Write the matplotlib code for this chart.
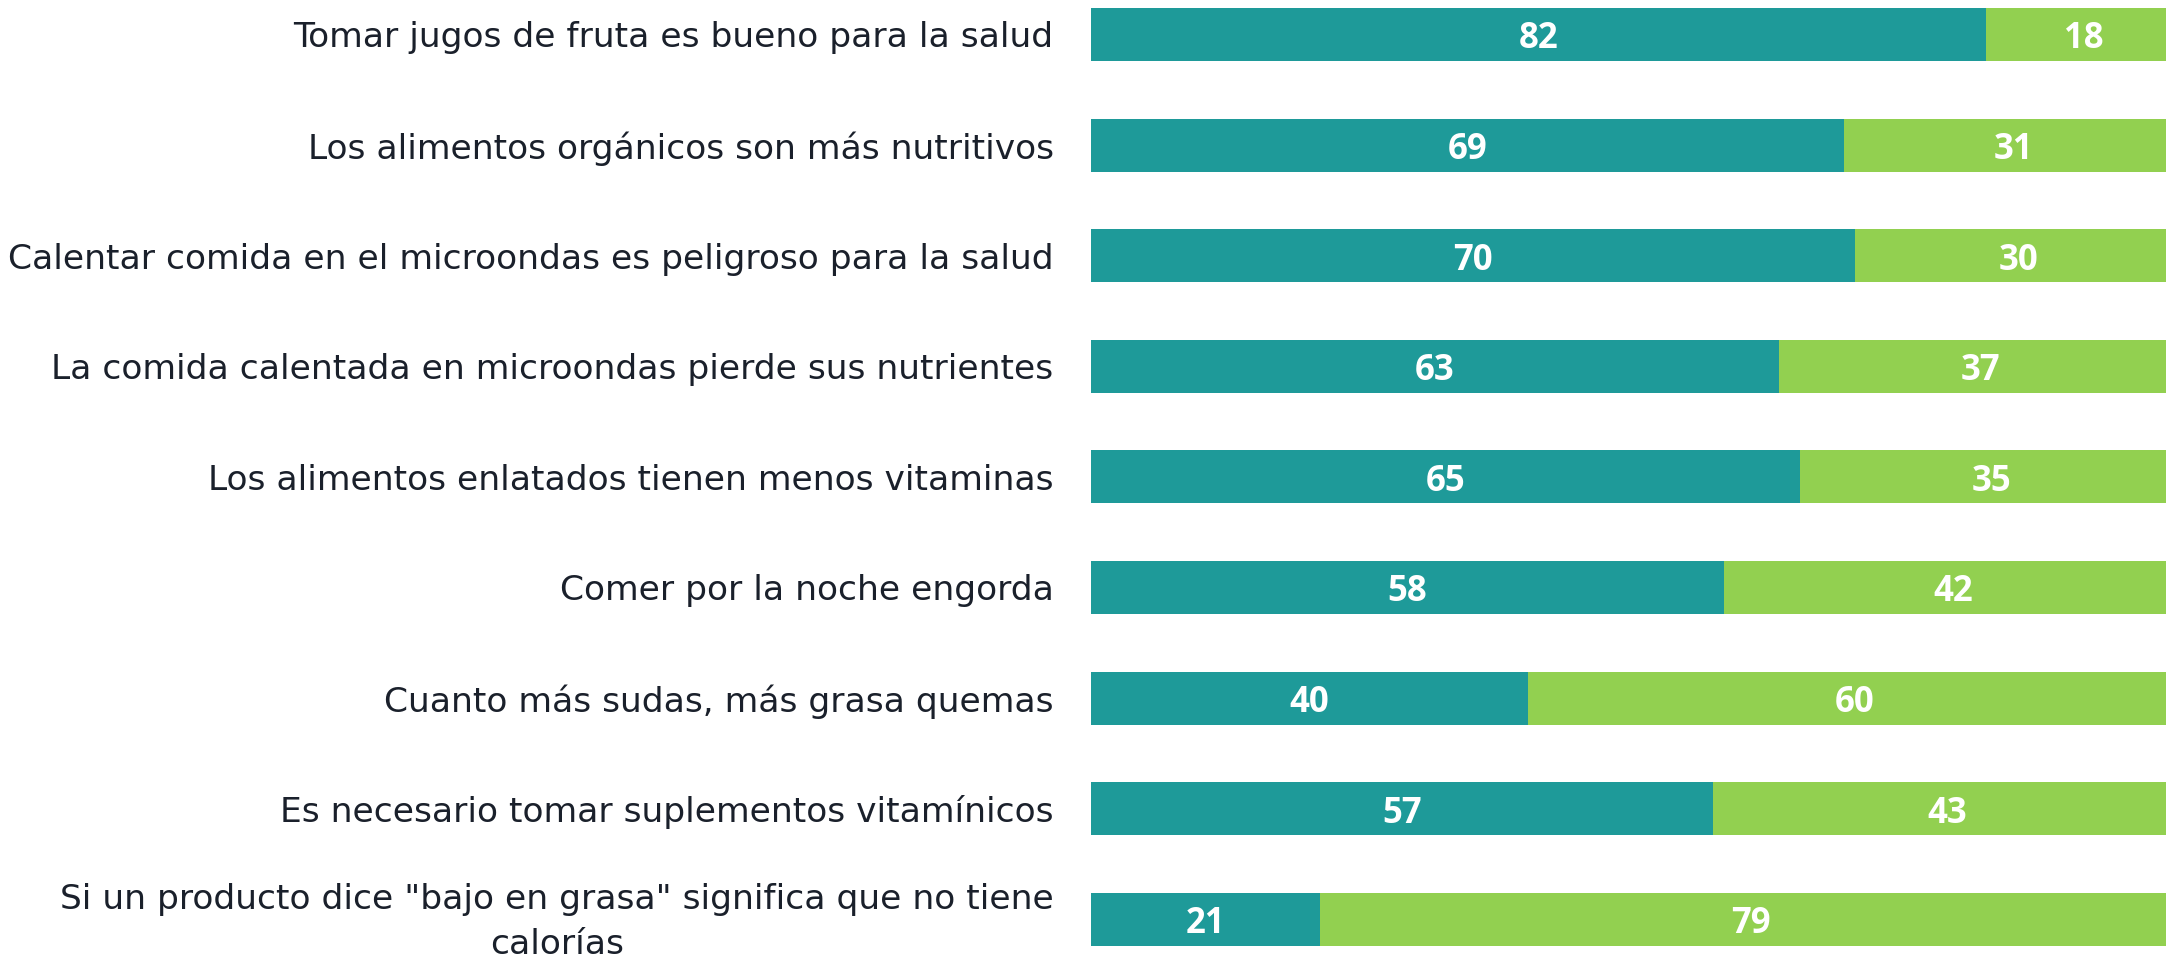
import matplotlib
matplotlib.use("Agg")
import matplotlib.pyplot as plt
import numpy as np

categories = [
    "Tomar jugos de fruta es bueno para la salud",
    "Los alimentos orgánicos son más nutritivos",
    "Calentar comida en el microondas es peligroso para la salud",
    "La comida calentada en microondas pierde sus nutrientes",
    "Los alimentos enlatados tienen menos vitaminas",
    "Comer por la noche engorda",
    "Cuanto más sudas, más grasa quemas",
    "Es necesario tomar suplementos vitamínicos",
    "Si un producto dice \"bajo en grasa\" significa que no tiene\ncalorías",
]
series_a = [82, 69, 70, 63, 65, 58, 40, 57, 21]
series_b = [18, 31, 30, 37, 35, 42, 60, 43, 79]

color_a = "#1E9A99"
color_b = "#92D050"
text_color = "#1A202B"

W, H = 2166, 959
fig = plt.figure(figsize=(W / 100, H / 100), dpi=100)
ax = fig.add_axes([1091 / W, 0, 1 - 1091 / W, 1])

y = np.arange(len(categories))
bh = 0.48
ax.barh(y, series_a, height=bh, color=color_a)
ax.barh(y, series_b, left=series_a, height=bh, color=color_b)

for i, (a, b) in enumerate(zip(series_a, series_b)):
    ax.text(a / 2, i + 0.045, str(a), ha="center", va="center", color="white",
            fontsize=25, fontweight="bold", family="Open Sans")
    ax.text(a + b / 2, i + 0.045, str(b), ha="center", va="center", color="white",
            fontsize=25, fontweight="bold", family="Open Sans")

for i, lab in enumerate(categories):
    multi = "\n" in lab
    ax.annotate(lab, xy=(0, i), xycoords=("axes fraction", "data"),
                xytext=(-27, -2 if multi else -2.5), textcoords="offset points",
                ha="right", va="center", multialignment="center",
                fontsize=24.8, color=text_color, family="DejaVu Sans",
                linespacing=1.45, annotation_clip=False)

ax.set_xlim(0, 98.5)
ax.set_ylim(8.359, -0.312)
ax.set_yticks([])
ax.set_xticks([])
for s in ax.spines.values():
    s.set_visible(False)

fig.savefig("out.png", dpi=100)
